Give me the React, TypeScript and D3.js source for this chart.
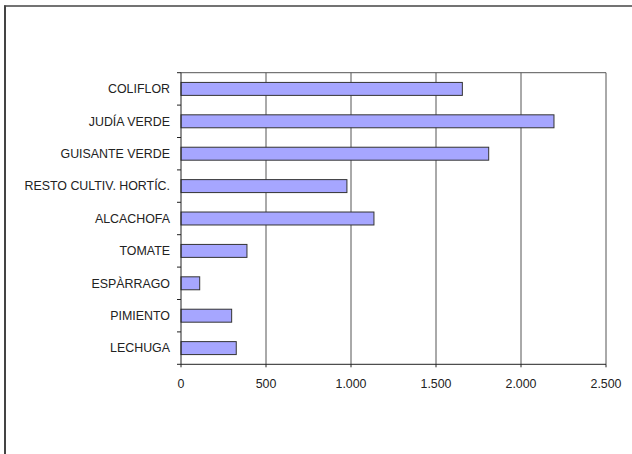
import React from "react";
import * as d3 from "d3";

const categories = [
  "COLIFLOR",
  "JUDÍA VERDE",
  "GUISANTE VERDE",
  "RESTO CULTIV. HORTÍC.",
  "ALCACHOFA",
  "TOMATE",
  "ESPÀRRAGO",
  "PIMIENTO",
  "LECHUGA",
];
const values = [1655, 2194, 1810, 976, 1135, 388, 110, 298, 325];
const xTicks = [0, 500, 1000, 1500, 2000, 2500];
const xTickLabels = ["0", "500", "1.000", "1.500", "2.000", "2.500"];

const W = 632;
const H = 454;
const plot = { left: 181, right: 606, top: 72.7, bottom: 364.3 };
const FONT = "'Liberation Sans', Arial, sans-serif";

export default function App() {
  const x = d3.scaleLinear().domain([0, 2500]).range([plot.left, plot.right]);
  const y = d3
    .scaleBand<string>()
    .domain(categories)
    .range([plot.top, plot.bottom])
    .paddingInner(0.6)
    .paddingOuter(0.3);
  const step = y.step();
  const boundaries = d3.range(categories.length + 1).map((i) => plot.top + i * step);

  return (
    <svg
      width={W}
      height={H}
      style={{ position: "absolute", left: 0, top: 0, background: "#fff" }}
    >
      <rect x={0} y={0} width={W} height={H} fill="#fff" />
      {/* outer frame (left and top edges) */}
      <line x1={5} y1={5.5} x2={5} y2={H} stroke="#444" strokeWidth={2} />
      <line x1={4} y1={6} x2={W} y2={6} stroke="#444" strokeWidth={1.5} />

      {/* gridlines */}
      {xTicks.slice(1).map((t) => (
        <line
          key={"g" + t}
          x1={x(t)}
          x2={x(t)}
          y1={plot.top}
          y2={plot.bottom}
          stroke="#555"
          strokeWidth={1}
        />
      ))}
      {/* plot top border */}
      <line x1={plot.left} x2={plot.right} y1={plot.top} y2={plot.top} stroke="#555" strokeWidth={1} />

      {/* bars */}
      {categories.map((c, i) => (
        <rect
          key={c}
          x={x(0)}
          y={y(c)!}
          width={x(values[i]) - x(0)}
          height={y.bandwidth()}
          fill="#A6A6FF"
          stroke="#333"
          strokeWidth={1}
        />
      ))}

      {/* y axis */}
      <line x1={plot.left} x2={plot.left} y1={plot.top} y2={plot.bottom} stroke="#222" strokeWidth={1} />
      {boundaries.map((b, i) => (
        <line key={"yt" + i} x1={plot.left - 4} x2={plot.left} y1={b} y2={b} stroke="#222" strokeWidth={1} />
      ))}
      {categories.map((c) => (
        <text
          key={"l" + c}
          x={170}
          y={y(c)! + y.bandwidth() / 2}
          dy="0.35em"
          textAnchor="end"
          fontFamily={FONT}
          fontSize={12.4}
          fill="#222"
        >
          {c}
        </text>
      ))}

      {/* x axis */}
      <line x1={plot.left} x2={plot.right} y1={plot.bottom} y2={plot.bottom} stroke="#222" strokeWidth={1} />
      {xTicks.map((t, i) => (
        <g key={"xt" + t}>
          <line x1={x(t)} x2={x(t)} y1={plot.bottom} y2={plot.bottom + 3} stroke="#222" strokeWidth={1} />
          <text
            x={x(t)}
            y={387.5}
            textAnchor="middle"
            fontFamily={FONT}
            fontSize={12.4}
            fill="#222"
          >
            {xTickLabels[i]}
          </text>
        </g>
      ))}
    </svg>
  );
}
